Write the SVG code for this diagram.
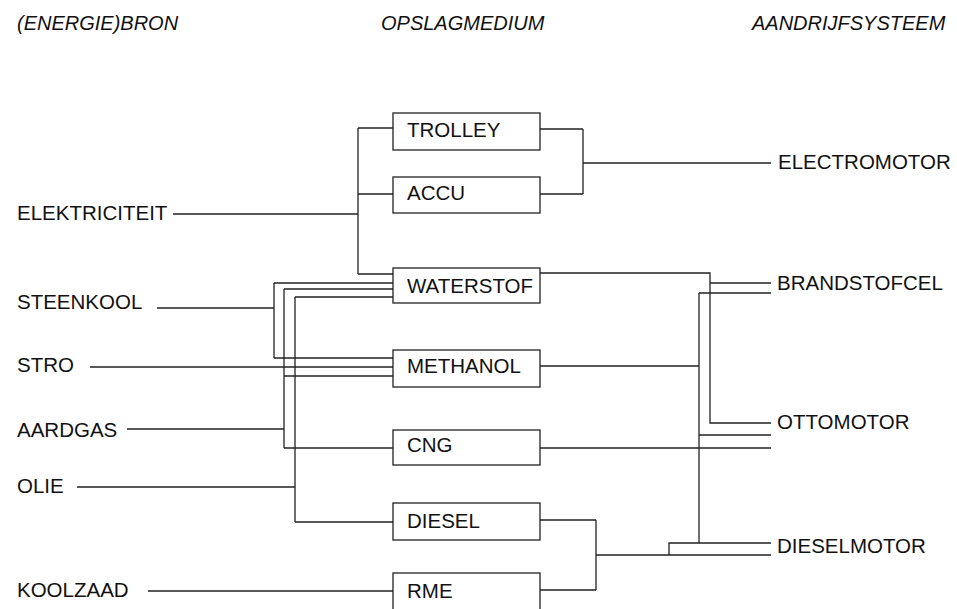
<svg xmlns="http://www.w3.org/2000/svg" width="957" height="609" viewBox="0 0 957 609">
<style>
text{font-family:"Liberation Sans",Arial,sans-serif;font-size:20.5px;fill:#111}
.h{font-style:italic;font-size:20px}
.box{fill:#fff;stroke:#222;stroke-width:1.3}
#connectors path{fill:none;stroke:#222;stroke-width:1.3}
</style>
<rect width="957" height="609" fill="#fff"/>
<g id="headers">
<text class="h" x="17" y="30">(ENERGIE)BRON</text>
<text class="h" x="381" y="30">OPSLAGMEDIUM</text>
<text class="h" x="752" y="30">AANDRIJFSYSTEEM</text>
</g>
<g id="connectors">
<path d="M173 214H358M358 128V274M358 128H393M358 194H393M358 274H393"/>
<path d="M157 308H274M274 283V358M274 283H393M274 358H393"/>
<path d="M90 367H393"/>
<path d="M127 429H284M284 289V448M284 289H393M284 376H393M284 448H393"/>
<path d="M77 487H295M295 297V522M295 297H393M295 522H393"/>
<path d="M148 591H393"/>
<path d="M540 129H583M540 194H583M583 129V194M583 163H771"/>
<path d="M540 273H710V423H771M710 283H771"/>
<path d="M540 366H699M699 293V543M699 293H771M699 435H771"/>
<path d="M540 448H771"/>
<path d="M540 520H596M540 590H596M596 520V590M596 555H771M669 555V543H771"/>
</g>
<g id="source-elektriciteit"><text x="17" y="220">ELEKTRICITEIT</text></g>
<g id="source-steenkool"><text x="17" y="309">STEENKOOL</text></g>
<g id="source-stro"><text x="17" y="372">STRO</text></g>
<g id="source-aardgas"><text x="17" y="437">AARDGAS</text></g>
<g id="source-olie"><text x="17" y="493">OLIE</text></g>
<g id="source-koolzaad"><text x="17" y="597">KOOLZAAD</text></g>
<g id="node-trolley"><rect class="box" x="393" y="113" width="147" height="37"/><text x="407" y="137">TROLLEY</text></g>
<g id="node-accu"><rect class="box" x="393" y="177" width="147" height="36"/><text x="407" y="200">ACCU</text></g>
<g id="node-waterstof"><rect class="box" x="393" y="268" width="147" height="35"/><text x="407" y="293">WATERSTOF</text></g>
<g id="node-methanol"><rect class="box" x="393" y="350" width="147" height="37"/><text x="407" y="373">METHANOL</text></g>
<g id="node-cng"><rect class="box" x="393" y="430" width="147" height="35"/><text x="407" y="452">CNG</text></g>
<g id="node-diesel"><rect class="box" x="393" y="503" width="147" height="37"/><text x="407" y="528">DIESEL</text></g>
<g id="node-rme"><rect class="box" x="393" y="573" width="147" height="40"/><text x="407" y="598">RME</text></g>
<g id="sys-electromotor"><text x="778" y="169">ELECTROMOTOR</text></g>
<g id="sys-brandstofcel"><text x="777" y="290">BRANDSTOFCEL</text></g>
<g id="sys-ottomotor"><text x="777" y="429">OTTOMOTOR</text></g>
<g id="sys-dieselmotor"><text x="777" y="553">DIESELMOTOR</text></g>
</svg>
